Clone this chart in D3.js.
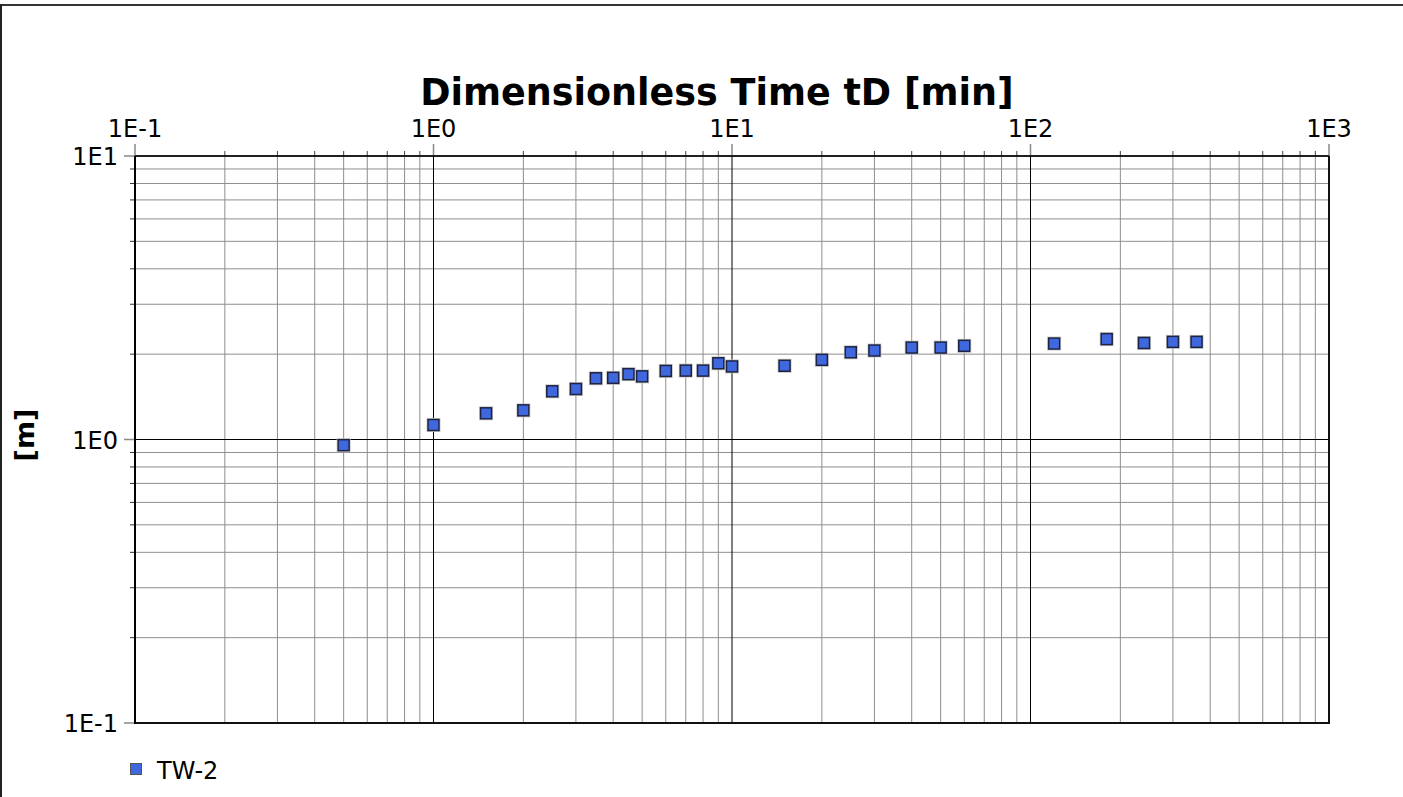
<!DOCTYPE html>
<html>
<head>
<meta charset="utf-8">
<script src="https://cdn.jsdelivr.net/npm/d3@7/dist/d3.min.js"></script>
<style>
  html, body { margin: 0; padding: 0; background: #fff; }
  svg { display: block; }
  text { font-family: "DejaVu Sans", Verdana, sans-serif; fill: #000; }
</style>
</head>
<body>
<svg id="chart" width="1403" height="797"></svg>
<script>
// Pumping test observation well TW-2: drawdown vs. time (log-log)
const seriesName = "TW-2";
const timeMin = [0.5, 1, 1.5, 2, 2.5, 3, 3.5, 4, 4.5, 5, 6, 7, 8, 9, 10,
                 15, 20, 25, 30, 40, 50, 60, 120, 180, 240, 300, 360];
const drawdownM = [0.955, 1.125, 1.237, 1.267, 1.479, 1.507, 1.644, 1.65, 1.70, 1.67,
                   1.745, 1.75, 1.75, 1.857, 1.81, 1.82, 1.91, 2.03, 2.06, 2.11,
                   2.11, 2.14, 2.18, 2.26, 2.19, 2.21, 2.21];
const xDomain = [0.1, 1000];
const yDomain = [0.1, 10];
const xDecades = [0.1, 1, 10, 100, 1000];
const yDecades = [0.1, 1, 10];
const xTickLabels = ["1E-1", "1E0", "1E1", "1E2", "1E3"];
const yTickLabels = ["1E-1", "1E0", "1E1"];
const xTitle = "Dimensionless Time tD [min]";
const yTitle = "[m]";

const W = 1403, H = 797;
const plot = { left: 135, right: 1329, top: 156, bottom: 723 };

const svg = d3.select("#chart");

const x = d3.scaleLog().domain(xDomain).range([plot.left, plot.right]);
const y = d3.scaleLog().domain(yDomain).range([plot.bottom, plot.top]);

// minor values: 2..9 within each decade
function minors(domain) {
  const out = [];
  for (let e = Math.round(Math.log10(domain[0])); e < Math.round(Math.log10(domain[1])); e++) {
    for (let m = 2; m <= 9; m++) out.push(m * Math.pow(10, e));
  }
  return out;
}
const xMinor = minors(xDomain);
const yMinor = minors(yDomain);

// outer frame (top and left edges)
svg.append("line").attr("x1", 0).attr("x2", W).attr("y1", 5).attr("y2", 5)
  .attr("stroke", "#333").attr("stroke-width", 2);
svg.append("line").attr("x1", 1).attr("x2", 1).attr("y1", 4).attr("y2", H)
  .attr("stroke", "#222").attr("stroke-width", 2);

const grid = svg.append("g");

// minor grid
grid.selectAll("line.vminor").data(xMinor).join("line")
  .attr("x1", d => x(d)).attr("x2", d => x(d))
  .attr("y1", plot.top).attr("y2", plot.bottom)
  .attr("stroke", "#8e8e8e").attr("stroke-width", 1);
grid.selectAll("line.hminor").data(yMinor).join("line")
  .attr("x1", plot.left).attr("x2", plot.right)
  .attr("y1", d => y(d)).attr("y2", d => y(d))
  .attr("stroke", "#8e8e8e").attr("stroke-width", 1);

// major grid
grid.selectAll("line.vmajor").data(xDecades).join("line")
  .attr("x1", d => x(d)).attr("x2", d => x(d))
  .attr("y1", plot.top).attr("y2", plot.bottom)
  .attr("stroke", "#000").attr("stroke-width", 1);
grid.selectAll("line.hmajor").data(yDecades).join("line")
  .attr("x1", plot.left).attr("x2", plot.right)
  .attr("y1", d => y(d)).attr("y2", d => y(d))
  .attr("stroke", "#000").attr("stroke-width", 1);

// top axis ticks
const ticks = svg.append("g");
ticks.selectAll("line.xmaj").data(xDecades).join("line")
  .attr("x1", d => x(d)).attr("x2", d => x(d))
  .attr("y1", plot.top - 12).attr("y2", plot.top)
  .attr("stroke", "#888").attr("stroke-width", 1.5);
ticks.selectAll("line.xmin").data(xMinor).join("line")
  .attr("x1", d => x(d)).attr("x2", d => x(d))
  .attr("y1", plot.top - 5).attr("y2", plot.top)
  .attr("stroke", "#444").attr("stroke-width", 1);
// left axis ticks
ticks.selectAll("line.ymaj").data(yDecades).join("line")
  .attr("x1", plot.left - 11).attr("x2", plot.left)
  .attr("y1", d => y(d)).attr("y2", d => y(d))
  .attr("stroke", "#888").attr("stroke-width", 1.5);
ticks.selectAll("line.ymin").data(yMinor).join("line")
  .attr("x1", plot.left - 5).attr("x2", plot.left)
  .attr("y1", d => y(d)).attr("y2", d => y(d))
  .attr("stroke", "#333").attr("stroke-width", 1);

// plot border
svg.append("line").attr("x1", plot.left).attr("x2", plot.right).attr("y1", plot.top).attr("y2", plot.top)
  .attr("stroke", "#000").attr("stroke-width", 1.5);
svg.append("line").attr("x1", plot.left).attr("x2", plot.right).attr("y1", plot.bottom).attr("y2", plot.bottom)
  .attr("stroke", "#111").attr("stroke-width", 2);
svg.append("line").attr("x1", plot.left).attr("x2", plot.left).attr("y1", plot.top).attr("y2", plot.bottom + 1)
  .attr("stroke", "#000").attr("stroke-width", 2);
svg.append("line").attr("x1", plot.right).attr("x2", plot.right).attr("y1", plot.top).attr("y2", plot.bottom + 1)
  .attr("stroke", "#111").attr("stroke-width", 2);

// tick labels
svg.append("g").selectAll("text").data(xDecades).join("text")
  .attr("x", d => x(d)).attr("y", plot.top - 19)
  .attr("text-anchor", "middle").attr("font-size", 24)
  .text((d, i) => xTickLabels[i]);
svg.append("g").selectAll("text").data(yDecades).join("text")
  .attr("x", plot.left - 17).attr("y", d => y(d) + 9)
  .attr("text-anchor", "end").attr("font-size", 24)
  .text((d, i) => yTickLabels[i]);

// axis titles
svg.append("text").attr("x", 717).attr("y", 105)
  .attr("text-anchor", "middle").attr("font-size", 36.5).attr("font-weight", "bold")
  .text(xTitle);
svg.append("text").attr("transform", `translate(34, 435) rotate(-90)`)
  .attr("text-anchor", "middle").attr("font-size", 27).attr("font-weight", "bold")
  .text(yTitle);

// data markers
const data = timeMin.map((t, i) => ({ t, s: drawdownM[i] }));
const ms = 11;
const marks = svg.append("g");
marks.selectAll("rect.halo").data(data).join("rect")
  .attr("x", d => x(d.t) - ms / 2 - 1).attr("y", d => y(d.s) - ms / 2 - 1)
  .attr("width", ms + 2).attr("height", ms + 2)
  .attr("fill", "none").attr("stroke", "#c8c8c8").attr("stroke-width", 1);
marks.selectAll("rect.pt").data(data).join("rect")
  .attr("x", d => x(d.t) - ms / 2).attr("y", d => y(d.s) - ms / 2)
  .attr("width", ms).attr("height", ms)
  .attr("fill", "#3f68df").attr("stroke", "#1d2340").attr("stroke-width", 1.5);

// legend
svg.append("rect").attr("x", 130.5).attr("y", 763.5).attr("width", 11).attr("height", 11)
  .attr("fill", "#3f68df").attr("stroke", "#555").attr("stroke-width", 1);
svg.append("text").attr("x", 157).attr("y", 779).attr("font-size", 24).text(seriesName);
</script>
</body>
</html>
